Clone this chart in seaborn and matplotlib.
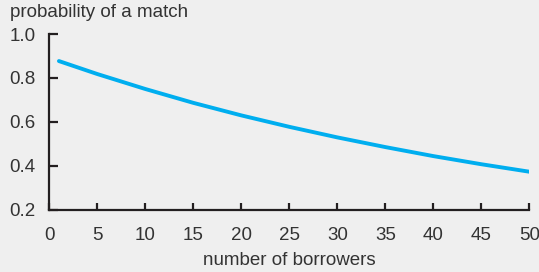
import matplotlib
matplotlib.use('Agg')
import matplotlib.pyplot as plt
import seaborn as sns
import pandas as pd

# values
borrowers = [1, 5, 10, 15, 20, 25, 30, 35, 40, 45, 50]
match_prob = [0.877, 0.818, 0.750, 0.687, 0.630, 0.578, 0.530, 0.486, 0.445, 0.408, 0.374]
x_ticks = [0, 5, 10, 15, 20, 25, 30, 35, 40, 45, 50]
y_ticks = [0.2, 0.4, 0.6, 0.8, 1.0]

data = pd.DataFrame({'borrowers': borrowers, 'prob': match_prob})

bg = '#efefef'
ink = '#231f20'
txt = '#333333'

sns.set_style('ticks')
plt.rcParams['font.family'] = ['Liberation Sans', 'DejaVu Sans']

fig = plt.figure(figsize=(5.39, 2.72), dpi=100, facecolor=bg)
ax = fig.add_axes([0.0915, 0.228, 0.8905, 0.647])
ax.set_facecolor(bg)

sns.lineplot(data=data, x='borrowers', y='prob', ax=ax, color='#00aeef', linewidth=2.8)

ax.set_xlim(0, 50)
ax.set_ylim(0.2, 1.0)
ax.set_xticks(x_ticks)
ax.set_yticks(y_ticks)
ax.set_yticklabels([f'{v:.1f}' for v in y_ticks])

sns.despine(ax=ax)
for side in ['left', 'bottom']:
    ax.spines[side].set_color(ink)
    ax.spines[side].set_linewidth(1.6)

ax.tick_params(axis='y', direction='in', length=6.5, width=1.6, color=ink,
               labelsize=13.5, labelcolor=txt, pad=10)
ax.tick_params(axis='x', direction='in', length=5, width=1.6, color=ink,
               labelsize=13.5, labelcolor=txt, pad=12.5)

ax.set_xlabel('number of borrowers', fontsize=13.5, color=txt, labelpad=5.5)
ax.set_ylabel('')
fig.text(0.0185, 0.9375, 'probability of a match', fontsize=13.5, color=txt,
         ha='left', va='baseline')

fig.savefig('out.png', dpi=100, facecolor=bg)
